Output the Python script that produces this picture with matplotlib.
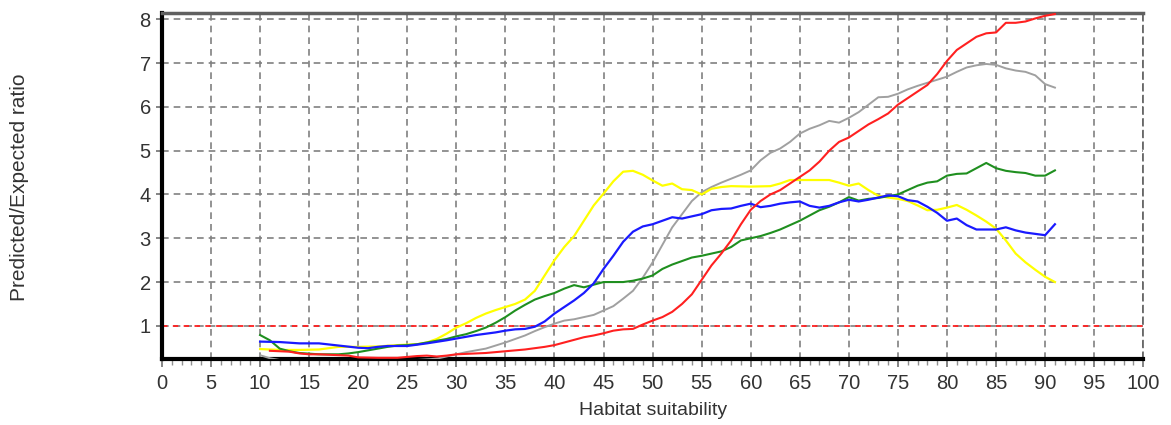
import matplotlib
matplotlib.use("Agg")
import matplotlib.pyplot as plt
from matplotlib.ticker import MultipleLocator

plt.rcParams['font.family'] = ['Liberation Sans', 'DejaVu Sans']

# curves (x = habitat suitability, y = P/E ratio)
yellow_x = [10, 12, 14, 16, 18, 20, 22, 24, 26, 27, 28, 29, 30, 31, 32, 33, 34, 35, 36, 37, 38, 39,
            40, 41, 42, 43, 44, 45, 46, 47, 48, 49, 50, 51, 52, 53, 54, 55, 56, 57, 58, 60, 62, 63,
            64, 66, 68, 69, 70, 71, 72, 73, 74, 75, 76, 77, 78, 79, 80, 81, 82, 83, 84, 85, 86, 87,
            88, 89, 90, 91]
yellow_y = [0.47, 0.45, 0.45, 0.46, 0.52, 0.52, 0.53, 0.56, 0.58, 0.62, 0.70, 0.82, 0.96, 1.06,
            1.18, 1.28, 1.36, 1.43, 1.50, 1.60, 1.80, 2.15, 2.50, 2.80, 3.05, 3.40, 3.75, 4.02,
            4.30, 4.52, 4.54, 4.45, 4.32, 4.20, 4.25, 4.12, 4.10, 4.00, 4.13, 4.17, 4.19, 4.18,
            4.19, 4.25, 4.33, 4.33, 4.33, 4.27, 4.20, 4.25, 4.10, 3.97, 3.93, 3.90, 3.85, 3.75,
            3.64, 3.65, 3.70, 3.76, 3.65, 3.52, 3.38, 3.22, 2.95, 2.65, 2.45, 2.28, 2.12, 2.00]

gray_x = [10, 11, 12, 14, 16, 18, 20, 22, 24, 26, 28, 29, 30, 31, 32, 33, 34, 35, 36, 37, 38, 39,
          40, 41, 42, 43, 44, 45, 46, 47, 48, 49, 50, 51, 52, 53, 54, 55, 56, 57, 58, 59, 60, 61,
          62, 63, 64, 65, 66, 67, 68, 69, 70, 71, 72, 73, 74, 75, 76, 77, 78, 79, 80, 81, 82, 83,
          84, 85, 86, 87, 88, 89, 90, 91]
gray_y = [0.33, 0.26, 0.22, 0.21, 0.20, 0.20, 0.20, 0.21, 0.21, 0.22, 0.25, 0.30, 0.35, 0.40,
          0.44, 0.48, 0.55, 0.62, 0.70, 0.78, 0.88, 0.97, 1.05, 1.12, 1.15, 1.20, 1.25, 1.35,
          1.45, 1.62, 1.80, 2.10, 2.45, 2.85, 3.25, 3.55, 3.85, 4.05, 4.17, 4.27, 4.36, 4.45,
          4.55, 4.78, 4.95, 5.05, 5.20, 5.39, 5.50, 5.58, 5.68, 5.64, 5.75, 5.88, 6.05, 6.22,
          6.23, 6.30, 6.40, 6.48, 6.55, 6.62, 6.69, 6.80, 6.90, 6.95, 6.98, 6.96, 6.88, 6.83,
          6.80, 6.72, 6.52, 6.44]

red_x = [11, 12, 13, 14, 15, 16, 18, 19, 20, 22, 24, 26, 27, 28, 29, 30, 31, 32, 33, 34, 35, 36,
         37, 38, 39, 40, 41, 42, 43, 44, 45, 46, 47, 48, 49, 50, 51, 52, 53, 54, 55, 56, 57, 58,
         59, 60, 61, 62, 63, 64, 65, 66, 67, 68, 69, 70, 71, 72, 73, 74, 75, 76, 77, 78, 79, 80,
         81, 82, 83, 84, 85, 86, 87, 88, 89, 90, 91]
red_y = [0.43, 0.42, 0.41, 0.37, 0.35, 0.35, 0.33, 0.32, 0.28, 0.27, 0.27, 0.31, 0.32, 0.30,
         0.32, 0.35, 0.36, 0.37, 0.38, 0.40, 0.42, 0.44, 0.46, 0.49, 0.52, 0.56, 0.62, 0.68,
         0.74, 0.78, 0.83, 0.89, 0.92, 0.93, 1.03, 1.12, 1.20, 1.32, 1.50, 1.72, 2.05, 2.38,
         2.65, 2.95, 3.32, 3.65, 3.85, 4.00, 4.10, 4.25, 4.40, 4.55, 4.75, 5.00, 5.20, 5.30,
         5.45, 5.60, 5.72, 5.85, 6.05, 6.20, 6.35, 6.50, 6.75, 7.05, 7.30, 7.45, 7.60, 7.68,
         7.70, 7.92, 7.92, 7.95, 8.02, 8.08, 8.12]

green_x = [10, 11, 12, 13, 14, 16, 18, 19, 20, 21, 22, 23, 24, 25, 26, 27, 28, 29, 30, 31, 32, 33,
           34, 35, 36, 37, 38, 39, 40, 41, 42, 43, 44, 45, 46, 47, 48, 49, 50, 51, 52, 53, 54, 55,
           56, 57, 58, 59, 60, 61, 62, 63, 64, 65, 66, 67, 68, 69, 70, 71, 72, 73, 74, 75, 76, 77,
           78, 79, 80, 81, 82, 83, 84, 85, 86, 87, 88, 89, 90, 91]
green_y = [0.79, 0.67, 0.48, 0.42, 0.38, 0.35, 0.35, 0.37, 0.40, 0.44, 0.48, 0.52, 0.55, 0.56,
           0.58, 0.62, 0.66, 0.70, 0.76, 0.81, 0.88, 0.96, 1.07, 1.20, 1.35, 1.48, 1.60, 1.68,
           1.75, 1.85, 1.93, 1.88, 1.94, 2.00, 2.00, 2.00, 2.03, 2.08, 2.15, 2.30, 2.40, 2.48,
           2.56, 2.60, 2.65, 2.70, 2.80, 2.95, 3.00, 3.05, 3.12, 3.20, 3.30, 3.40, 3.52, 3.64,
           3.72, 3.82, 3.94, 3.86, 3.90, 3.92, 3.96, 4.00, 4.10, 4.20, 4.27, 4.30, 4.43, 4.47,
           4.48, 4.60, 4.72, 4.60, 4.54, 4.51, 4.49, 4.43, 4.43, 4.55]

blue_x = [10, 12, 14, 16, 18, 20, 21, 22, 23, 25, 27, 29, 30, 31, 32, 33, 34, 35, 36, 37, 38, 39,
          40, 41, 42, 43, 44, 45, 46, 47, 48, 49, 50, 51, 52, 53, 54, 55, 56, 57, 58, 59, 60, 61,
          62, 63, 64, 65, 66, 67, 68, 69, 70, 71, 72, 73, 74, 75, 76, 77, 78, 79, 80, 81, 82, 83,
          84, 85, 86, 87, 88, 89, 90, 91]
blue_y = [0.64, 0.63, 0.60, 0.60, 0.55, 0.50, 0.49, 0.52, 0.54, 0.54, 0.60, 0.67, 0.71, 0.75,
          0.79, 0.82, 0.85, 0.89, 0.92, 0.93, 0.98, 1.10, 1.28, 1.43, 1.58, 1.75, 1.97, 2.30,
          2.60, 2.92, 3.15, 3.27, 3.32, 3.40, 3.48, 3.45, 3.50, 3.55, 3.64, 3.67, 3.68, 3.74,
          3.79, 3.71, 3.74, 3.79, 3.82, 3.84, 3.74, 3.70, 3.74, 3.82, 3.88, 3.84, 3.88, 3.93,
          3.98, 3.96, 3.87, 3.84, 3.72, 3.58, 3.40, 3.45, 3.30, 3.20, 3.20, 3.20, 3.25, 3.18,
          3.13, 3.10, 3.07, 3.32]

ref_level = 1.0

fig = plt.figure(figsize=(11.71, 4.25), dpi=100)
ax = fig.add_axes([0.1383, 0.155, 0.838, 0.814])

ax.axhline(ref_level, color="#ff2020", lw=1.3, ls=(0, (3, 3)), zorder=2)
ax.plot(gray_x, gray_y, color="#a0a0a0", lw=1.4, zorder=3)
ax.plot(yellow_x, yellow_y, color="#ffff00", lw=1.6, zorder=3)
ax.plot(green_x, green_y, color="#1f8f1f", lw=1.5, zorder=3)
ax.plot(blue_x, blue_y, color="#1a1aff", lw=1.6, zorder=4)
ax.plot(red_x, red_y, color="#ff2020", lw=1.5, zorder=5)

ax.set_xlim(0, 100)
ax.set_ylim(0.24, 8.14)
ax.xaxis.set_major_locator(MultipleLocator(5))
ax.xaxis.set_minor_locator(MultipleLocator(1))
ax.set_yticks(range(1, 9))

ax.grid(True, which="major", color="#808080", lw=1.2, ls=(0, (4, 3)))
ax.set_axisbelow(True)

for side in ["left", "bottom"]:
    ax.spines[side].set_linewidth(3)
    ax.spines[side].set_color("black")
ax.spines["top"].set_linewidth(2.5)
ax.spines["top"].set_color("#606060")
ax.spines["right"].set_linewidth(1.2)
ax.spines["right"].set_color("#606060")
ax.spines["right"].set_linestyle((0, (4, 3)))

ax.tick_params(axis="x", which="major", length=6, width=1.2, color="#707070",
               labelsize=14.5, labelcolor="#333333", pad=5)
ax.tick_params(axis="x", which="minor", length=4, width=1, color="#909090")
ax.tick_params(axis="y", which="major", length=4, width=1.2, color="#707070",
               labelsize=14.5, labelcolor="#333333", pad=4)

ax.set_xlabel("Habitat suitability", fontsize=14, color="#333333", labelpad=6)
ax.set_ylabel("Predicted/Expected ratio", fontsize=15, color="#333333")
ax.yaxis.set_label_coords(-0.1356, 0.497)

fig.savefig("out.png", dpi=100, facecolor="white")
